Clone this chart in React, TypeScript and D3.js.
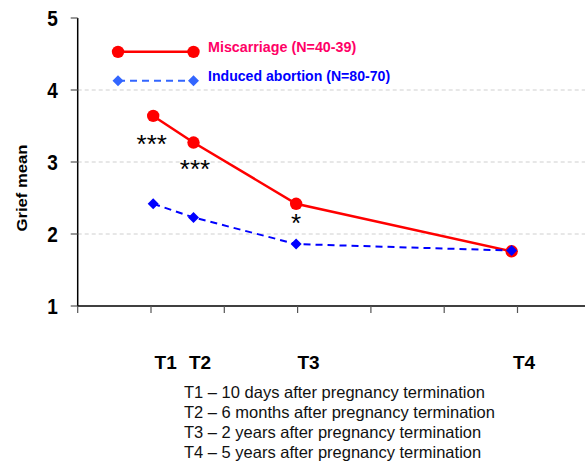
import React from "react";
import * as d3 from "d3";

const timeYears = [0.03, 0.58, 1.98, 4.92];
const miscarriage = [3.64, 3.27, 2.42, 1.76];
const induced = [2.42, 2.23, 1.86, 1.77];
const yTicks = [1, 2, 3, 4, 5];
const gridValues = [2, 3, 4];
const xTickValues = [-1, 0, 1, 2, 3, 4, 5, 6];
const timeLabels = ["T1", "T2", "T3", "T4"];
const timeLabelPos = [0.2, 0.67, 2.15, 5.09];
const stars = ["***", "***", "*"];
const starPos = [
  { x: 0.01, y: 3.33 },
  { x: 0.6, y: 2.985 },
  { x: 1.98, y: 2.24 },
];
const notes = [
  "T1 \u2013 10 days after pregnancy termination",
  "T2 \u2013 6 months after pregnancy termination",
  "T3 \u2013 2 years after pregnancy termination",
  "T4 \u2013 5 years after pregnancy termination",
];
const legendNames = ["Miscarriage (N=40-39)", "Induced abortion (N=80-70)"];
const legendX = [-0.45, 0.58];
const legendY = [4.53, 4.13];

export default function App() {
  const W = 585, H = 464;
  const x = d3.scaleLinear().domain([-1, 6]).range([77.7, 77.7 + 7 * 73.3]);
  const y = d3.scaleLinear().domain([1, 5]).range([306, 18]);
  const line = d3.line<number>().x((_, i) => x(timeYears[i])).y((d) => y(d));
  const font = "'Liberation Sans', Arial, sans-serif";
  const diamond = (cx: number, cy: number, r: number) =>
    `M${cx},${cy - r}L${cx + r},${cy}L${cx},${cy + r}L${cx - r},${cy}Z`;

  return (
    <svg width={W} height={H} style={{ position: "absolute", left: 0, top: 0, fontFamily: font }}>
      <rect width={W} height={H} fill="#fff" />
      {gridValues.map((v) => (
        <line key={v} x1={x(-1)} x2={W} y1={y(v)} y2={y(v)} stroke="#cfcfcf" strokeDasharray="4,3" strokeWidth={1} />
      ))}
      {/* y axis */}
      <line x1={x(-1)} x2={x(-1)} y1={y(5)} y2={y(1)} stroke="#000" strokeWidth={1.5} />
      {yTicks.map((v) => (
        <g key={v}>
          <line x1={x(-1) - 7} x2={x(-1)} y1={y(v)} y2={y(v)} stroke="#555" strokeWidth={1.2} />
          <g transform={`translate(${x(-1) - 20},${y(v)}) scale(1,1.2)`}>
            <text x={0} y={0} dy="0.36em" textAnchor="end" fontSize={19} fontWeight="bold">{v}</text>
          </g>
        </g>
      ))}
      {/* x axis */}
      <line x1={x(-1)} x2={W} y1={y(1)} y2={y(1)} stroke="#000" strokeWidth={1.5} />
      {xTickValues.map((v) => (
        <line key={v} x1={x(v)} x2={x(v)} y1={y(1)} y2={y(1) + 7} stroke="#555" strokeWidth={1.2} />
      ))}
      <text transform={`translate(27,188) rotate(-90)`} textAnchor="middle" fontSize={15} fontWeight="bold" textLength={87} lengthAdjust="spacingAndGlyphs">Grief mean</text>

      {/* series */}
      <path d={line(miscarriage) || ""} fill="none" stroke="#ff0000" strokeWidth={2.5} />
      <path d={line(induced) || ""} fill="none" stroke="#0000ff" strokeWidth={2} strokeDasharray="7,5" />
      {miscarriage.map((v, i) => (
        <circle key={i} cx={x(timeYears[i])} cy={y(v)} r={6.2} fill="#ff0000" />
      ))}
      {induced.map((v, i) => (
        <path key={i} d={diamond(x(timeYears[i]), y(v), 5.5)} fill="#0000ff" />
      ))}

      {stars.map((s, i) => (
        <text key={i} x={x(starPos[i].x)} y={y(starPos[i].y) + 15} textAnchor="middle" fontSize={26} fontWeight="normal">{s}</text>
      ))}

      {/* legend */}
      <line x1={x(legendX[0])} x2={x(legendX[1])} y1={y(legendY[0])} y2={y(legendY[0])} stroke="#ff0000" strokeWidth={2.5} />
      {legendX.map((lx, i) => (
        <circle key={i} cx={x(lx)} cy={y(legendY[0])} r={6.2} fill="#ff0000" />
      ))}
      <text x={208} y={y(legendY[0]) - 5} dy="0.35em" fontSize={14.3} fontWeight="bold" fill="#ff0066">{legendNames[0]}</text>
      <line x1={x(legendX[0])} x2={x(legendX[1])} y1={y(legendY[1])} y2={y(legendY[1])} stroke="#3366ff" strokeWidth={2} strokeDasharray="7,5" />
      {legendX.map((lx, i) => (
        <path key={i} d={diamond(x(lx), y(legendY[1]), 5.5)} fill="#3366ff" />
      ))}
      <text x={208} y={y(legendY[1]) - 5} dy="0.35em" fontSize={14.1} fontWeight="bold" fill="#0000ff">{legendNames[1]}</text>

      {timeLabels.map((t, i) => (
        <text key={t} x={x(timeLabelPos[i])} y={369} textAnchor="middle" fontSize={19} fontWeight="bold">{t}</text>
      ))}
      {notes.map((n, i) => (
        <text key={i} x={184} y={398 + i * 20} fontSize={16.5} fill="#111">{n}</text>
      ))}
    </svg>
  );
}
